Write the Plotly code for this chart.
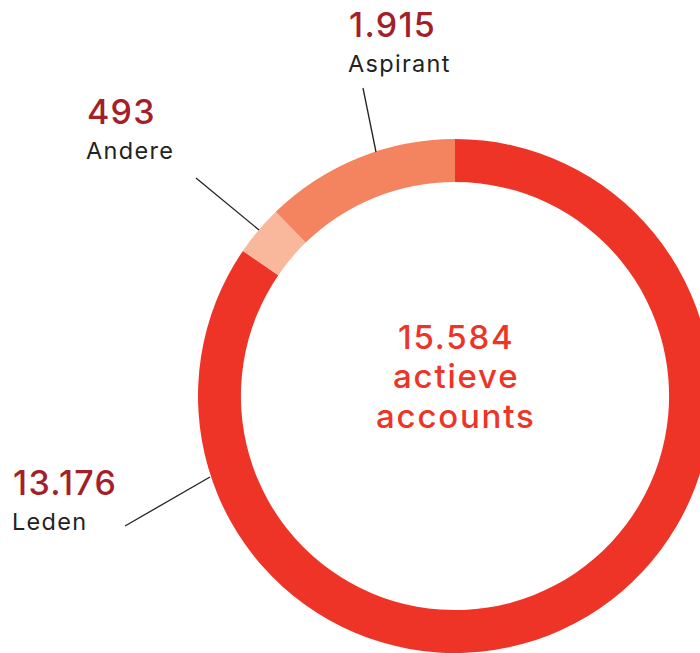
import plotly.graph_objects as go

# ---- data ----
categories = ["Leden", "Andere", "Aspirant"]
values = [13176, 493, 1915]
colors = ["#EE3426", "#F9B89C", "#F4845F"]
center_caption = ["actieve", "accounts"]

W, H = 720, 653

def fmt(n):
    return f"{n:,}".replace(",", ".")

def px(x):
    return x / W

def py(y):
    return 1 - y / H

def spaced(t, ls):
    return f"<span style='letter-spacing:{ls}px'>{t}</span>"

cx, cy, R = 455, 396, 257

fig = go.Figure(go.Pie(
    labels=categories,
    values=values,
    marker=dict(colors=colors, line=dict(width=0)),
    hole=0.833,
    sort=False,
    direction="clockwise",
    rotation=0,
    textinfo="none",
    hoverinfo="label+value",
    showlegend=False,
    domain=dict(x=[px(cx - R), px(cx + R)], y=[py(cy + R), py(cy - R)]),
))

FONT = "Inter, Roboto, sans-serif"
NUM_COLOR = "#A3202A"
LBL_COLOR = "#222222"

# label positions (layout only)
label_pos = {
    "Aspirant": dict(x=347, ynum=24.5, ylbl=63.5, line=((363, 88), (376, 152))),
    "Andere": dict(x=85, ynum=111.5, ylbl=150, line=((196, 178), (259, 230))),
    "Leden": dict(x=11, ynum=482.5, ylbl=521.5, line=((125, 526), (210, 477))),
}

annotations = []
shapes = []
for cat, val in zip(categories, values):
    p = label_pos[cat]
    annotations.append(dict(
        text=spaced(fmt(val), 1.3), x=px(p["x"]), y=py(p["ynum"]), xref="paper", yref="paper",
        xanchor="left", yanchor="middle", showarrow=False,
        font=dict(family=FONT, size=34, color=NUM_COLOR, weight=500),
    ))
    annotations.append(dict(
        text=spaced(cat, 1.3), x=px(p["x"] - 1), y=py(p["ylbl"]), xref="paper", yref="paper",
        xanchor="left", yanchor="middle", showarrow=False,
        font=dict(family=FONT, size=23.5, color=LBL_COLOR),
    ))
    (x0, y0), (x1, y1) = p["line"]
    shapes.append(dict(
        type="line", xref="paper", yref="paper",
        x0=px(x0), y0=py(y0), x1=px(x1), y1=py(y1),
        line=dict(color="#222222", width=1.3),
    ))

center_lines = [fmt(sum(values))] + center_caption
center_y = [337, 376, 416]
for t, yy in zip(center_lines, center_y):
    annotations.append(dict(
        text=spaced(t, 1.8), x=px(cx + 1), y=py(yy), xref="paper", yref="paper",
        xanchor="center", yanchor="middle", showarrow=False,
        font=dict(family=FONT, size=33, color="#EE3426", weight=500),
    ))

fig.update_layout(
    width=W, height=H,
    margin=dict(l=0, r=0, t=0, b=0),
    paper_bgcolor="white", plot_bgcolor="white",
    annotations=annotations, shapes=shapes,
)

fig.write_html(
    "out.html",
    config={"displayModeBar": False},
    post_script="document.body.style.margin='0';document.body.style.overflow='hidden';document.documentElement.style.overflow='hidden';",
)
